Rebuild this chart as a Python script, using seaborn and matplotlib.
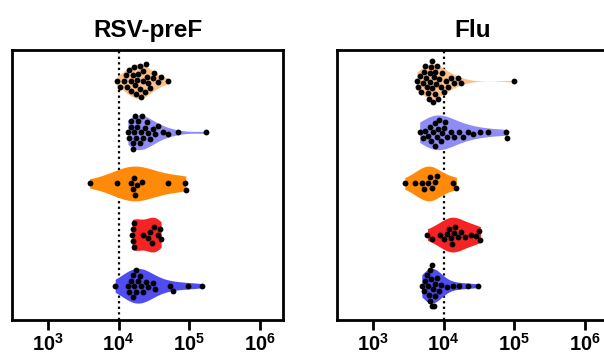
import numpy as np
import pandas as pd
import seaborn as sns
import matplotlib.pyplot as plt
from matplotlib.ticker import FixedLocator, FuncFormatter, NullLocator

# =========================
# Data (log10 titers)
# =========================
groups = ["G1", "G2", "G3", "G4", "G5"]
colors = ["#F9C089", "#8F8CF6", "#FF8A0A", "#F52424", "#4F4CF2"]
panels = ["RSV-preF", "Flu"]

rsv_g1 = [3.98, 4.02, 4.08, 4.10, 4.12, 4.15, 4.17, 4.18, 4.20, 4.22, 4.23, 4.25,
          4.26, 4.28, 4.30, 4.30, 4.32, 4.34, 4.35, 4.37, 4.38, 4.40, 4.42, 4.45,
          4.48, 4.50, 4.55, 4.60, 4.70]
rsv_g2 = [4.13, 4.15, 4.17, 4.18, 4.20, 4.20, 4.22, 4.23, 4.25, 4.26, 4.28, 4.30,
          4.31, 4.33, 4.35, 4.37, 4.40, 4.42, 4.45, 4.48, 4.52, 4.55, 4.62, 4.70,
          4.84, 5.23]
rsv_g3 = [3.59, 3.98, 4.18, 4.20, 4.21, 4.23, 4.26, 4.33, 4.70, 4.94, 4.95]
rsv_g4 = [4.19, 4.20, 4.20, 4.21, 4.22, 4.35, 4.42, 4.45, 4.47, 4.50, 4.55, 4.58, 4.60]
rsv_g5 = [3.95, 4.13, 4.15, 4.18, 4.20, 4.20, 4.22, 4.24, 4.25, 4.27, 4.30, 4.32,
          4.35, 4.38, 4.42, 4.48, 4.52, 4.73, 4.77, 4.98, 5.18]

flu_g1 = [3.62, 3.64, 3.66, 3.68, 3.70, 3.72, 3.73, 3.75, 3.76, 3.78, 3.79, 3.80,
          3.81, 3.82, 3.83, 3.84, 3.85, 3.86, 3.87, 3.88, 3.89, 3.90, 3.92, 3.94,
          3.96, 3.98, 4.00, 4.03, 4.06, 4.10, 4.15, 4.20, 4.25, 5.00]
flu_g2 = [3.66, 3.70, 3.74, 3.78, 3.80, 3.82, 3.85, 3.87, 3.88, 3.90, 3.92, 3.94,
          3.96, 3.98, 4.00, 4.02, 4.05, 4.10, 4.15, 4.22, 4.27, 4.34, 4.42, 4.52,
          4.62, 4.88, 4.90]
flu_g3 = [3.45, 3.60, 3.69, 3.72, 3.78, 3.80, 3.84, 3.87, 3.90, 4.13, 4.18]
flu_g4 = [3.77, 3.83, 3.95, 4.00, 4.04, 4.08, 4.10, 4.12, 4.14, 4.16, 4.20, 4.25,
          4.30, 4.38, 4.46, 4.50, 4.52]
flu_g5 = [3.69, 3.72, 3.74, 3.76, 3.78, 3.79, 3.80, 3.81, 3.82, 3.83, 3.84, 3.85,
          3.86, 3.87, 3.88, 3.90, 3.93, 3.96, 4.04, 4.13, 4.22, 4.34, 4.48]

cutoff = 1e4
tick_exp = [3, 4, 5, 6]

# =========================
# Long table
# =========================
rows = []
for panel, series in zip(panels, [[rsv_g1, rsv_g2, rsv_g3, rsv_g4, rsv_g5],
                                  [flu_g1, flu_g2, flu_g3, flu_g4, flu_g5]]):
    for g, vals in zip(groups, series):
        for v in vals:
            rows.append({"panel": panel, "group": g, "titer": 10 ** v})
df = pd.DataFrame(rows)

# =========================
# Plot
# =========================
sns.set_style("white")
plt.rcParams["font.family"] = ["Liberation Sans", "DejaVu Sans"]
plt.rcParams["text.color"] = "black"
plt.rcParams["xtick.color"] = "black"
plt.rcParams["mathtext.fontset"] = "custom"
plt.rcParams["mathtext.bf"] = "Liberation Sans:bold"
plt.rcParams["mathtext.rm"] = "Liberation Sans:bold"

fig = plt.figure(figsize=(6.04, 3.53), dpi=100)
axes = [fig.add_axes([0.0199, 0.0935, 0.4487, 0.765]),
        fig.add_axes([0.558, 0.0935, 0.4487, 0.765])]

for ax, panel in zip(axes, panels):
    sub = df[df["panel"] == panel]
    ax.axvline(cutoff, color="black", linestyle=(0, (1, 1.5)), linewidth=1.6, zorder=0)
    sns.violinplot(
        data=sub, x="titer", y="group", hue="group", order=groups,
        palette=colors, saturation=1, cut=0, inner=None,
        density_norm="width", width=0.68, linewidth=0, bw_adjust=1.15,
        log_scale=True, legend=False, ax=ax,
    )
    sns.swarmplot(
        data=sub, x="titer", y="group", order=groups,
        color="black", size=4.2, log_scale=True, ax=ax,
    )

    ax.set_xlim(10 ** 2.49, 10 ** 6.326)
    ax.set_ylim(4.67, -0.61)
    ax.xaxis.set_major_locator(FixedLocator([10.0 ** e for e in tick_exp]))
    ax.xaxis.set_minor_locator(NullLocator())
    ax.xaxis.set_major_formatter(
        FuncFormatter(lambda x, pos: r"$\mathbf{10^{%d}}$" % round(np.log10(x))))
    ax.tick_params(axis="x", length=7, width=2, pad=2, labelsize=14.5,
                   bottom=True, color="black", labelcolor="black")
    ax.tick_params(axis="y", left=False, labelleft=False)
    ax.set_xlabel("")
    ax.set_ylabel("")
    for s in ax.spines.values():
        s.set_linewidth(2)
        s.set_color("black")
    ax.set_title(panel, fontsize=17.5, fontweight="bold", color="black", pad=9)

plt.savefig("out.png", dpi=100)
